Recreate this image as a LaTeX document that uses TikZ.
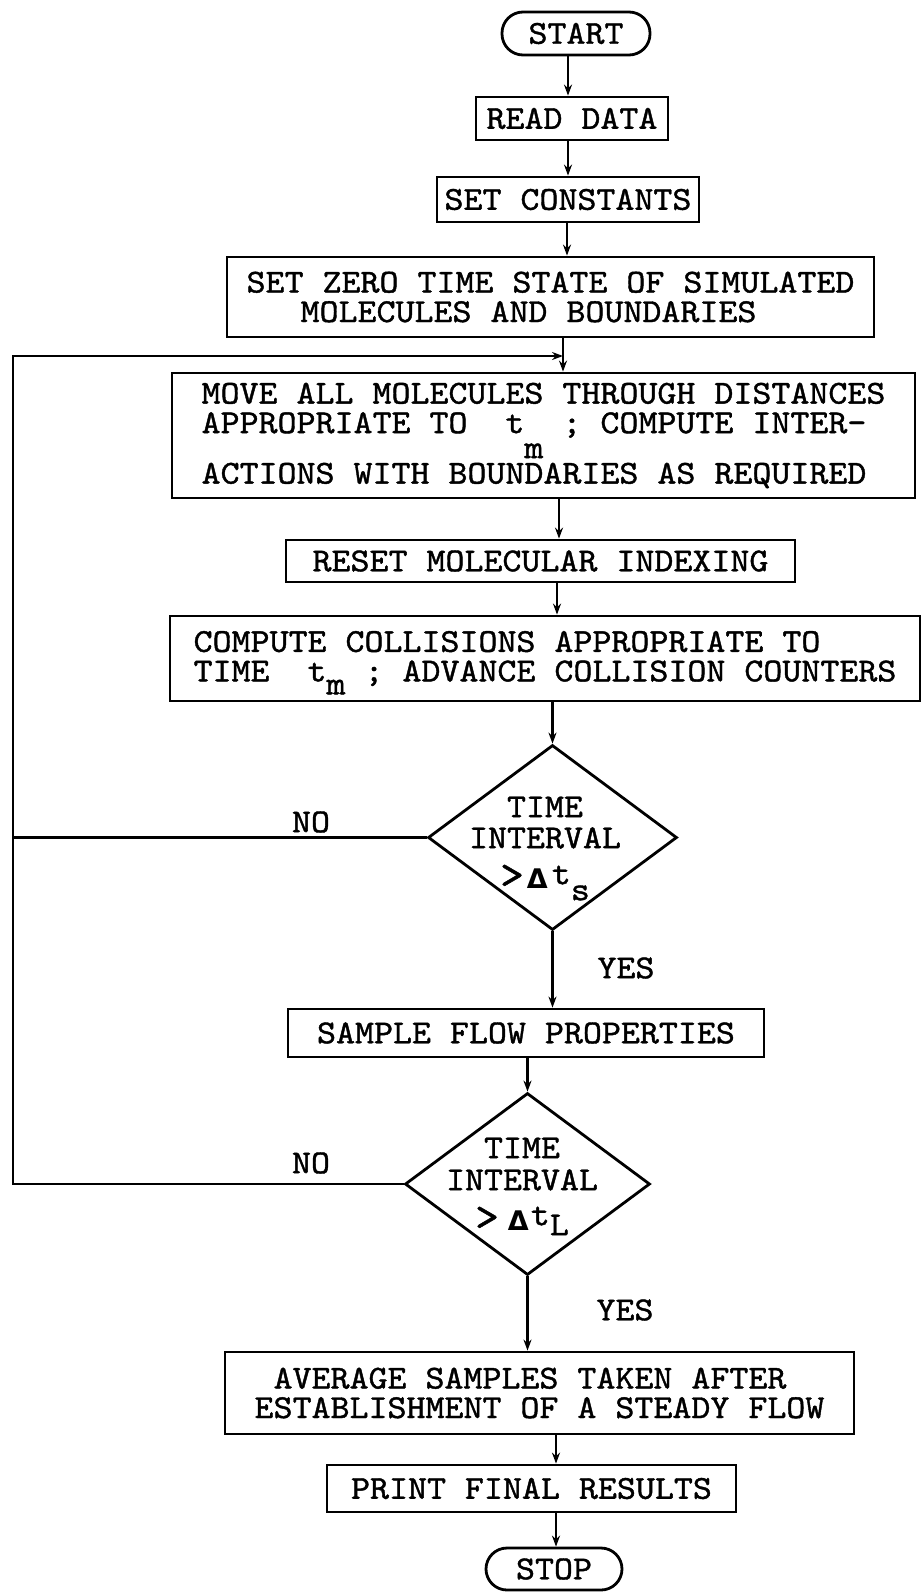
\documentclass[tikz,border=0pt]{standalone}
\usepackage{fontspec}
\newfontfamily\tw{lmmono10-regular.otf}[FakeStretch=1.08,FakeBold=1.2]
\newfontfamily\dv{DejaVu Sans}
\usetikzlibrary{shapes.geometric,arrows.meta}
\newcommand\subm[1]{\smash{\raisebox{#1}{m}}}
\newcommand\ch[1]{\hspace*{#1}}
\newcommand\dlt{{\dv\bfseries\fontsize{27}{29.5}\selectfont Δ}}
\newcommand\bgt{{\fontsize{42}{29.5}\selectfont >}}
\newcommand\gtline[5]{\bgt\hspace{#1}\dlt\hspace{#2}\smash{\raisebox{#3}{t}}\smash{\raisebox{#5}{#4}}}
\begin{document}
\begin{tikzpicture}[x=1pt,y=-1pt,
  every node/.style={font=\tw\fontsize{33.5}{29.5}\selectfont, inner sep=0pt},
  box/.style={draw, line width=2.8pt, align=left},
  term/.style={draw, line width=2.8pt, rounded corners=21pt},
  dia/.style={draw, diamond, line width=2.8pt},
  arr/.style={line width=2.8pt, -{Stealth[length=11pt,width=8pt]}},
  ln/.style={line width=2.8pt}]
\fill[white] (0,0) rectangle (921,1592);
\useasboundingbox (0,0) rectangle (921,1592);

\node[term, minimum width=148, minimum height=43] (start) at (576,33.5) {START};
\node[box, minimum width=192, minimum height=43] (read) at (572,118.5) {READ DATA};
\node[box, minimum width=262, minimum height=45] (setc) at (568,199.5) {SET CONSTANTS};
\node[box, minimum width=647, minimum height=80] (setz) at (550.5,297) {SET ZERO TIME STATE OF SIMULATED\\\ch{54pt}MOLECULES AND BOUNDARIES};
\node[box, minimum width=743, minimum height=125] (move) at (543.5,435.5) {MOVE ALL MOLECULES THROUGH DISTANCES\\APPROPRIATE TO~~t\subm{-25pt}~; COMPUTE INTER-\\[21pt]ACTIONS WITH BOUNDARIES AS REQUIRED};
\node[box, minimum width=509, minimum height=42] (reset) at (540.5,561) {RESET MOLECULAR INDEXING};
\node[box, minimum width=750, minimum height=85] (comp) at (545,658.5) {COMPUTE COLLISIONS APPROPRIATE TO\\TIME~~t\subm{-13pt}~; ADVANCE COLLISION COUNTERS};

\node[dia, minimum width=249, minimum height=185] (d1) at (552.5,837.5) {};
\node[anchor=north, align=center] (d1t) at (545,796.5) {TIME\\[1.5pt]INTERVAL\\[10.5pt]\gtline{3pt}{4pt}{4pt}{s}{-12pt}};

\node[box, minimum width=476, minimum height=48] (samp) at (526,1033) {SAMPLE FLOW PROPERTIES};

\node[dia, minimum width=245, minimum height=182] (d2) at (527.5,1184) {};
\node[anchor=north, align=center] (d2t) at (522,1137.5) {TIME\\[2.5pt]INTERVAL\\[10.5pt]\gtline{9pt}{2pt}{5pt}{L}{-5pt}};

\node[box, minimum width=629, minimum height=82] (avg) at (539.5,1393) {\ch{19pt}AVERAGE SAMPLES TAKEN AFTER\\ESTABLISHMENT OF A STEADY FLOW};
\node[box, minimum width=409, minimum height=47] (print) at (531.5,1488.5) {PRINT FINAL RESULTS};
\node[term, minimum width=136, minimum height=42] (stop) at (554,1569) {STOP};

\node (no1) at (311,822) {NO};
\node (no2) at (311,1163) {NO};
\node (yes1) at (626,968) {YES};
\node (yes2) at (625,1310) {YES};

\coordinate (j) at (563,356);
\coordinate (lc) at (13,356);

\draw[arr] (start.south -| 568,0) -- (read.north -| 568,0);
\draw[arr] (read.south -| 568,0) -- (setc.north -| 568,0);
\draw[arr] (setc.south -| 567,0) -- (setz.north -| 567,0);
\draw[arr] (setz.south -| j) -- (move.north -| j);
\draw[arr] (move.south -| 559,0) -- (reset.north -| 559,0);
\draw[arr] (reset.south -| 557,0) -- (comp.north -| 557,0);
\draw[arr] (comp.south -| d1.north) -- (d1.north);
\draw[arr] (d1.south) -- (d1.south |- samp.north);
\draw[arr] (samp.south -| d2.north) -- (d2.north);
\draw[arr] (d2.south) -- (d2.south |- avg.north);
\draw[arr] (avg.south -| 556,0) -- (print.north -| 556,0);
\draw[arr] (print.south -| 556,0) -- (stop.north -| 556,0);
\draw[arr] (d2.west) -| (lc) -- (j);
\draw[ln] (d1.west) -- (d1.west -| lc);
\end{tikzpicture}
\end{document}
